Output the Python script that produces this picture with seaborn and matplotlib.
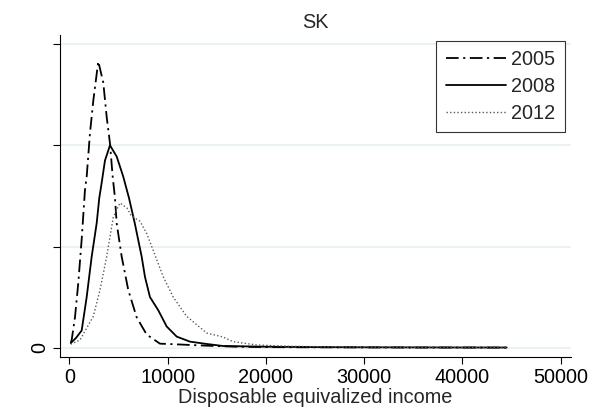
import matplotlib
matplotlib.use("Agg")
import matplotlib.pyplot as plt
import seaborn as sns
import pandas as pd

# Kernel density estimates of disposable equivalized income, Slovakia
years = ["2005", "2008", "2012"]

income_2005 = [150, 244, 580, 916, 1261, 1597, 1770, 2106, 2442, 2950, 3459, 3805,
               4140, 4415, 4649, 4822, 5331, 6002, 6857, 7874, 9227, 10549, 12279,
               14000, 17000, 20000, 25000, 30000, 35000, 40000, 44500]
density_2005 = [0.046, 0.076, 0.30, 0.64, 1.07, 1.56, 1.69, 2.12, 2.44, 2.83, 2.62, 2.28,
                2.02, 1.69, 1.48, 1.23, 0.90, 0.57, 0.30, 0.13, 0.04, 0.035, 0.027,
                0.02, 0.01, 0.006, 0.004, 0.003, 0.002, 0.002, 0.001]

income_2008 = [150, 680, 1261, 1770, 2279, 2787, 3052, 3296, 3632, 4140, 4822, 5493, 6073,
               6663, 7365, 7701, 8210, 9054, 9908, 10926, 12279, 13977, 15636,
               20000, 25000, 30000, 35000, 40000, 44500]
density_2008 = [0.046, 0.096, 0.17, 0.50, 0.90, 1.23, 1.48, 1.63, 1.85, 2.00, 1.89, 1.69, 1.48,
                1.23, 0.90, 0.70, 0.50, 0.37, 0.21, 0.11, 0.06, 0.037, 0.017,
                0.01, 0.006, 0.004, 0.003, 0.002, 0.002]

income_2012 = [150, 1088, 2442, 3123, 3805, 4476, 5158, 5870, 6277, 6857, 7192, 7874,
               8545, 9563, 10580, 11943, 13977, 15636, 16653, 19064, 22000, 25000,
               30000, 35000, 40000, 44500]
density_2012 = [0.035, 0.076, 0.31, 0.57, 0.90, 1.29, 1.43, 1.38, 1.31, 1.27, 1.25, 1.13,
                0.96, 0.70, 0.50, 0.31, 0.145, 0.106, 0.06, 0.027, 0.015, 0.01,
                0.006, 0.004, 0.003, 0.002]

x_ticks = [0, 10000, 20000, 30000, 40000, 50000]
x_tick_labels = ["0", "10000", "20000", "30000", "40000", "50000"]
y_ticks = [0, 1e-4, 2e-4, 3e-4]
y_tick_labels = ["0", "", "", ""]

FS = 14.3

sns.set_style("white")
plt.rcParams["font.family"] = ["Liberation Sans", "DejaVu Sans"]

fig = plt.figure(figsize=(6.01, 4.16), dpi=100)
ax = fig.add_axes([0.0998, 0.1425, 0.8502, 0.7733])

series = {
    "2005": (income_2005, density_2005),
    "2008": (income_2008, density_2008),
    "2012": (income_2012, density_2012),
}
styles = {
    "2005": dict(color="black", linewidth=1.3, linestyle=(0, (7, 2.5, 1.2, 2.5))),
    "2008": dict(color="black", linewidth=1.3, linestyle="-"),
    "2012": dict(color="#5a5a5a", linewidth=1.0, linestyle=(0, (1, 1.6))),
}

for yr in years:
    inc, dens = series[yr]
    df = pd.DataFrame({"income": inc, "density": [d * 1e-4 for d in dens]})
    sns.lineplot(data=df, x="income", y="density", ax=ax, label=yr,
                 estimator=None, sort=True, **styles[yr])

ax.set_xlim(-946, 51038)
ax.set_ylim(-0.089e-4, 3.09e-4)
ax.set_xticks(x_ticks)
ax.set_xticklabels(x_tick_labels)
ax.set_yticks(y_ticks)
ax.set_yticklabels(y_tick_labels, rotation=90, va="center")

ax.yaxis.grid(True, color="#eaf2f3", linewidth=1.4)
ax.xaxis.grid(False)
ax.set_axisbelow(True)

for side in ("top", "right"):
    ax.spines[side].set_visible(False)
for side in ("left", "bottom"):
    ax.spines[side].set_color("black")
    ax.spines[side].set_linewidth(0.8)

ax.tick_params(axis="both", which="both", direction="out", length=5, width=0.8,
               color="black", labelsize=FS, labelcolor="black",
               left=True, bottom=True)
ax.tick_params(axis="x", pad=3)
ax.tick_params(axis="y", pad=3)

ax.set_xlabel("Disposable equivalized income", fontsize=FS, labelpad=1)
ax.set_ylabel("")
ax.set_title("SK", fontsize=FS, pad=5)

leg = ax.legend(loc="upper right", bbox_to_anchor=(0.9401, 0.9026),
                bbox_transform=fig.transFigure, borderaxespad=0,
                frameon=True, fancybox=False, fontsize=FS,
                handlelength=3.0, handletextpad=0.25, labelspacing=0.38,
                borderpad=0.5)
leg.get_frame().set_edgecolor("black")
leg.get_frame().set_linewidth(0.8)

fig.savefig("out.png", dpi=100, facecolor="white")
